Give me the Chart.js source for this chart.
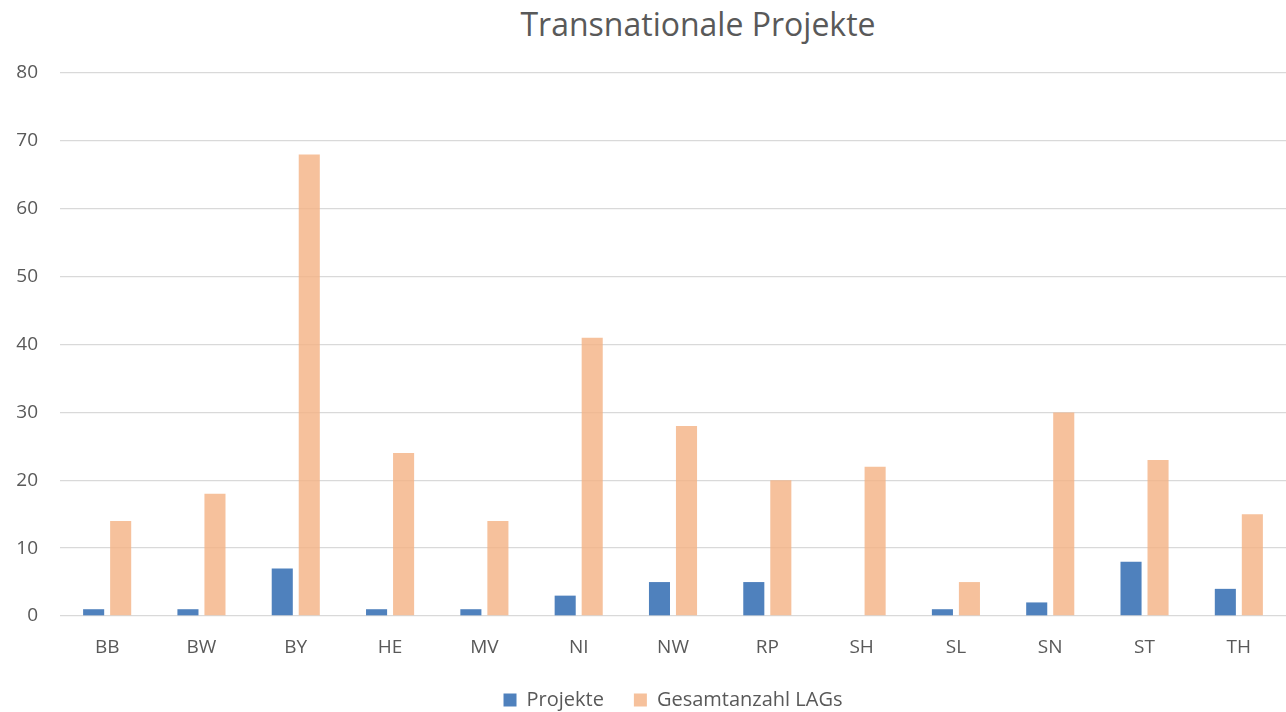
<!DOCTYPE html>
<html lang="de">
<head>
<meta charset="utf-8">
<title>Transnationale Projekte</title>
<script src="https://cdn.jsdelivr.net/npm/chart.js@4"></script>
<style>
  html, body { margin: 0; padding: 0; background: #fff; }
  #wrap { position: relative; width: 1286px; height: 712px; }
  #title {
    position: absolute; top: 2px; left: 698px; transform: translateX(-50%);
    font: 32px "Open Sans", sans-serif; color: #595959; white-space: nowrap;
  }
  canvas { position: absolute; left: 0; top: 0; }
</style>
</head>
<body>
<div id="wrap">
  <div id="title">Transnationale Projekte</div>
  <canvas id="chart" width="1286" height="712"></canvas>
</div>
<script>
  const laender = ["BB", "BW", "BY", "HE", "MV", "NI", "NW", "RP", "SH", "SL", "SN", "ST", "TH"];
  const projekte = [1, 1, 7, 1, 1, 3, 5, 5, 0, 1, 2, 8, 4];
  const gesamtLags = [14, 18, 68, 24, 14, 41, 28, 20, 22, 5, 30, 23, 15];
  const yTicks = [0, 10, 20, 30, 40, 50, 60, 70, 80];

  const grau = "#595959";
  const schrift = {family: "'Open Sans', sans-serif", size: 19};
  const legendSchrift = {family: "'Open Sans', sans-serif", size: 20};

  new Chart(document.getElementById("chart"), {
    type: "bar",
    data: {
      labels: laender,
      datasets: [
        {
          label: "Projekte",
          data: projekte,
          backgroundColor: "#4f81bd",
          categoryPercentage: 0.573,
          barPercentage: 0.78,
        },
        {
          label: "Gesamtanzahl LAGs",
          data: gesamtLags,
          backgroundColor: "rgba(244, 177, 131, 0.8)",
          categoryPercentage: 0.573,
          barPercentage: 0.78,
        },
      ],
    },
    options: {
      responsive: false,
      animation: false,
      // unten leicht negativ, damit die Legende nah am Rand sitzt
      layout: {padding: {top: 73, right: 0, left: 0, bottom: -8}},
      plugins: {
        title: {display: false},
        tooltip: {enabled: false},
        legend: {
          position: "bottom",
          fullSize: false,
          labels: {
            color: grau,
            font: legendSchrift,
            boxWidth: 13,
            boxHeight: 13,
            padding: 30,
          },
        },
      },
      scales: {
        x: {
          afterFit: (scale) => {
            scale.height = 44;
          },
          grid: {display: false},
          border: {display: false},
          ticks: {color: grau, font: schrift, padding: 12},
        },
        y: {
          min: 0,
          max: 80,
          afterBuildTicks: (scale) => {
            scale.ticks = yTicks.map((v) => ({value: v}));
          },
          afterFit: (scale) => {
            scale.width = 60;
          },
          grid: {color: "#d9d9d9", lineWidth: 1.3, drawTicks: false},
          border: {display: false},
          ticks: {color: grau, font: schrift, padding: 22},
        },
      },
    },
  });
</script>
</body>
</html>
